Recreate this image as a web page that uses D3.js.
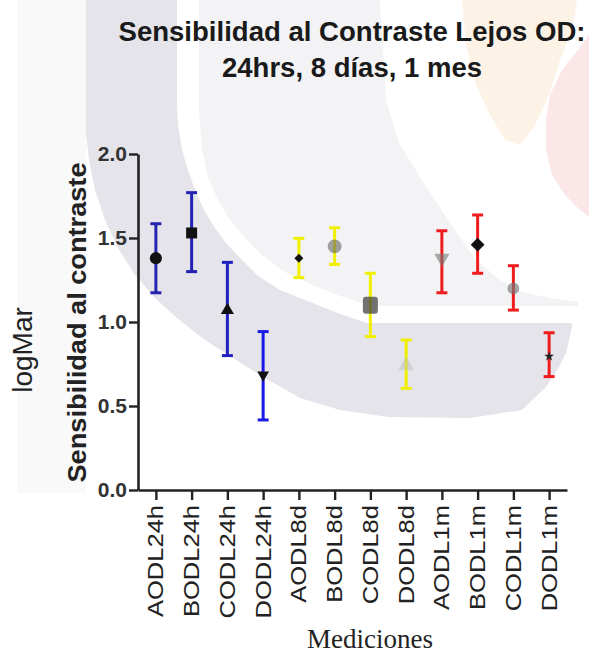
<!DOCTYPE html>
<html><head><meta charset="utf-8">
<script src="https://cdn.jsdelivr.net/npm/d3@7"></script>
<style>body{margin:0;background:#fff}svg{display:block}</style>
</head><body><svg id="c" width="589" height="653"></svg>
<script>
// ---- data ----
const categories = ["AODL24h","BODL24h","CODL24h","DODL24h","AODL8d","BODL8d","CODL8d","DODL8d","AODL1m","BODL1m","CODL1m","DODL1m"];
const means = [1.38, 1.53, 1.07, 0.685, 1.38, 1.45, 1.10, 0.74, 1.38, 1.46, 1.20, 0.795];
const upper = [1.585, 1.77, 1.355, 0.943, 1.498, 1.561, 1.29, 0.893, 1.543, 1.637, 1.335, 0.936];
const lower = [1.174, 1.30, 0.80, 0.417, 1.264, 1.343, 0.913, 0.605, 1.174, 1.29, 1.071, 0.675];
const yTicks = [0.0, 0.5, 1.0, 1.5, 2.0];
const titleLines = ["Sensibilidad al Contraste Lejos OD:", "24hrs, 8 días, 1 mes"];
const yTitle = "Sensibilidad al contraste";
const outerYTitle = "logMar";
const xTitle = "Mediciones";

// ---- styles (per category) ----
const barColors = ["#2424b0","#2222b4","#2020c0","#1a1ae6","#f0f000","#f0f000","#f0f000","#f0f000","#ee1c1c","#ee1c1c","#ee1c1c","#ee1c1c"];
const markerStyles = [
  {shape:"circle", size:115, fill:"#111", op:1},
  {shape:"square", size:120, fill:"#111", op:1},
  {shape:"triangle", size:75, fill:"#111", op:1},
  {shape:"triangleDown", size:60, fill:"#111", op:1},
  {shape:"diamond", size:40, fill:"#111", op:1},
  {shape:"circle", size:150, fill:"#666", op:0.6},
  {shape:"roundSquare", size:15, fill:"#444", op:0.75},
  {shape:"triangle", size:110, fill:"#bbb", op:0.45},
  {shape:"triangleDown", size:100, fill:"#777", op:0.6},
  {shape:"diamond", size:95, fill:"#111", op:1},
  {shape:"circle", size:110, fill:"#777", op:0.65},
  {shape:"star", size:30, fill:"#222", op:1}
];

const svg = d3.select("#c");
const W = 589, H = 653;
const font = "'Liberation Sans', Arial, sans-serif";

// ---- faint watermark background (decoration) ----
const bg = svg.append("g");
const poly = d3.line();
bg.append("rect").attr("x",17).attr("y",0).attr("width",69).attr("height",493).attr("fill","#f9f9fa");
bg.append("path").attr("fill","#f3f3f6").attr("d", poly([
  [199,0],[380,0],[386,100],[399,143],[422,180],[446,217],[476,260],[500,280],[522,292],[550,298],[578,302],
  [578,306],[372,306],[340,296],[310,284],[285,272],[262,255],[245,238],[230,220],[218,200],[208,178],[202,150],[199,110]
]) + "Z");
bg.append("path").attr("fill","#e4e4ea").attr("d", poly([
  [86,0],[86,133],[89,160],[95,190],[105,220],[118,248],[135,275],[155,298],[177,318],[205,340],[233,358],[265,378],
  [300,398],[340,410],[389,417],[470,418],[522,410],[546,387],[560,365],[566,353],[572,327],
  [572,323],[367,323],[340,314],[310,302],[280,290],[258,276],[240,258],[226,243],[215,228],[204,210],[195,190],
  [188,170],[182,150],[178,125],[177,107],[177,0]
]) + "Z");
bg.append("path").attr("fill","#fdf2e6").attr("d", poly([
  [462,0],[577,0],[572,30],[560,60],[549,95],[535,125],[520,145],[505,140],[490,115],[476,85],[466,45]
]) + "Z");
bg.append("path").attr("fill","#fbe7e7").attr("d", poly([
  [589,35],[578,50],[562,70],[550,95],[546,120],[546,150],[552,175],[565,195],[580,210],[589,217]
]) + "Z");

// ---- scales ----
const x = d3.scalePoint().domain(categories).range([138, 567]).padding(0.5);
const y = d3.scaleLinear().domain([0, 2]).range([490, 154]);

// ---- axes ----
const yAx = svg.append("g").attr("transform","translate(138,0)")
  .call(d3.axisLeft(y).tickValues(yTicks).tickFormat(d3.format(".1f")).tickSize(9).tickSizeOuter(0).tickPadding(2));
yAx.select(".domain").attr("stroke","#222").attr("stroke-width",2.6);
yAx.selectAll(".tick line").attr("stroke","#222").attr("stroke-width",2.4);
yAx.selectAll(".tick text").attr("font-family",font).attr("font-weight","bold").attr("font-size",21).attr("fill","#333");

const xAx = svg.append("g").attr("transform","translate(0,490)")
  .call(d3.axisBottom(x).tickSize(10).tickSizeOuter(0));
xAx.select(".domain").attr("stroke","#222").attr("stroke-width",2.6);
xAx.selectAll(".tick line").attr("stroke","#222").attr("stroke-width",2.4);
xAx.selectAll(".tick text")
  .attr("font-family",font).attr("font-size",22).attr("fill","#222")
  .attr("x",0).attr("y",7).attr("dy",null)
  .attr("text-anchor","end")
  .attr("transform","translate(0,15) rotate(-90) scale(1.16,1)");

// ---- error bars ----
const eb = svg.append("g");
categories.forEach((c,i)=>{
  const cx = x(c);
  const g = eb.append("g").attr("stroke",barColors[i]).attr("stroke-width",3);
  g.append("line").attr("x1",cx).attr("x2",cx).attr("y1",y(upper[i])).attr("y2",y(lower[i]));
  g.append("line").attr("x1",cx-5.5).attr("x2",cx+5.5).attr("y1",y(upper[i])).attr("y2",y(upper[i]));
  g.append("line").attr("x1",cx-5.5).attr("x2",cx+5.5).attr("y1",y(lower[i])).attr("y2",y(lower[i]));
});

// ---- markers ----
const mk = svg.append("g");
categories.forEach((c,i)=>{
  const s = markerStyles[i], cx = x(c), cy = y(means[i]);
  let el;
  if (s.shape === "roundSquare") {
    el = mk.append("rect").attr("x",cx-s.size/2).attr("y",cy-s.size/2-1).attr("width",s.size).attr("height",s.size+2).attr("rx",3);
  } else {
    let type = d3.symbolCircle, rot = 0;
    if (s.shape==="square") type = d3.symbolSquare;
    if (s.shape==="triangle") type = d3.symbolTriangle;
    if (s.shape==="triangleDown") { type = d3.symbolTriangle; rot = 180; }
    if (s.shape==="diamond") { type = d3.symbolSquare; rot = 45; }
    if (s.shape==="star") type = d3.symbolStar;
    el = mk.append("path").attr("d", d3.symbol().type(type).size(s.size)())
      .attr("transform",`translate(${cx},${cy}) rotate(${rot})`);
  }
  el.attr("fill",s.fill).attr("fill-opacity",s.op);
});

// ---- titles ----
const tt = svg.append("g").attr("font-family",font).attr("font-weight","bold").attr("fill","#1a1a1a").attr("text-anchor","middle").attr("font-size",27.6);
tt.append("text").attr("x",352).attr("y",41).attr("textLength",467).attr("lengthAdjust","spacingAndGlyphs").text(titleLines[0]);
tt.append("text").attr("x",352).attr("y",77).attr("textLength",260).attr("lengthAdjust","spacingAndGlyphs").text(titleLines[1]);

svg.append("text").attr("transform","translate(86,322.5) rotate(-90)")
  .attr("font-family",font).attr("font-weight","bold").attr("font-size",26).attr("fill","#222")
  .attr("text-anchor","middle").attr("textLength",320).attr("lengthAdjust","spacingAndGlyphs").text(yTitle);

svg.append("text").attr("transform","translate(32,350) rotate(-90)")
  .attr("font-family",font).attr("font-size",28).attr("fill","#222")
  .attr("text-anchor","middle").text(outerYTitle);

svg.append("text").attr("x",370).attr("y",648)
  .attr("font-family","'Liberation Serif', 'Times New Roman', serif").attr("font-size",27).attr("fill","#222")
  .attr("text-anchor","middle").text(xTitle);
</script>
</body></html>
